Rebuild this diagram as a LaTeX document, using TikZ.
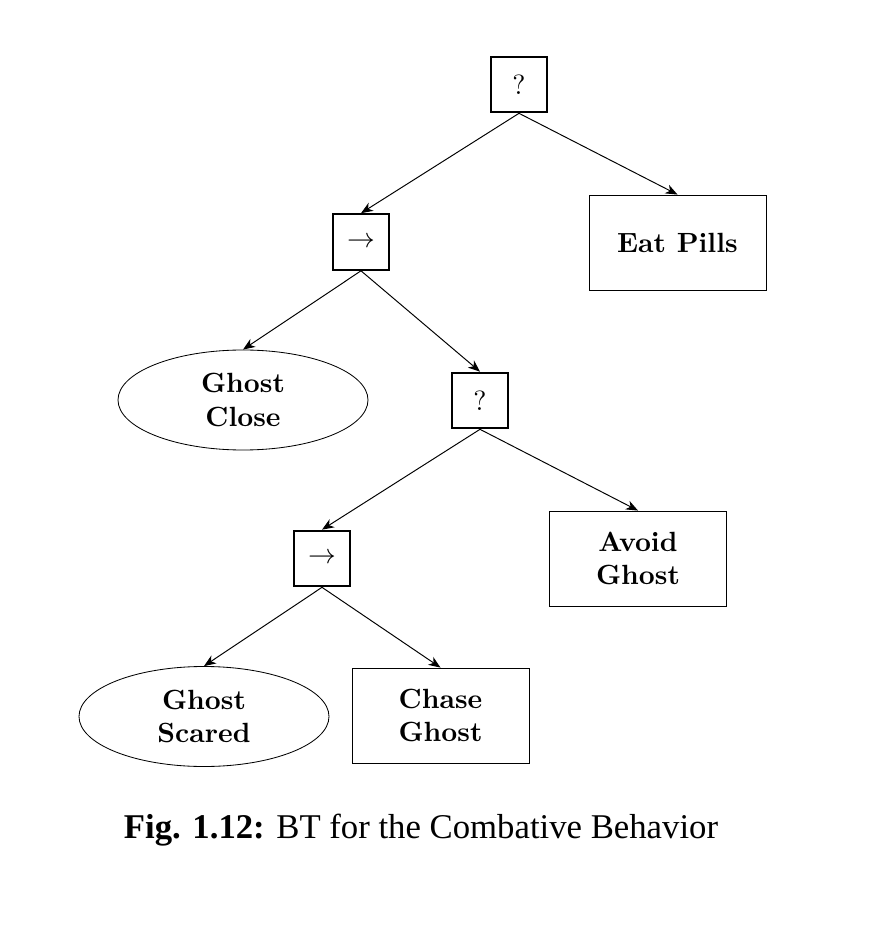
\documentclass[tikz,border=0pt]{standalone}
\usepackage{fontspec}
\usetikzlibrary{shapes.geometric,arrows.meta}
\newfontfamily\capfont{Liberation Serif}
\begin{document}
\begin{tikzpicture}[x=0.36pt,y=-0.36pt,
  ctrl/.style={draw,line width=0.75pt,minimum width=20pt,minimum height=20pt,inner sep=0pt,font=\normalsize},
  act/.style={draw,line width=0.3pt,minimum width=63.7pt,minimum height=34.2pt,inner sep=0pt,align=center,font=\bfseries},
  cond/.style={draw,ellipse,line width=0.3pt,minimum width=90pt,minimum height=36pt,inner sep=0pt,align=center,font=\bfseries},
  edge/.style={-{Stealth[length=4.3pt,width=3.4pt,inset=1.3pt]},line width=0.35pt}]
\useasboundingbox (0,0) rectangle (883,927);
\node[ctrl] (r) at (519,84.5) {?};
\node[ctrl] (s1) at (361,242) {$\rightarrow$};
\node[act] (eat) at (677.5,242.5) {Eat Pills};
\node[cond] (gc) at (243,400) {Ghost\\Close};
\node[ctrl] (f2) at (480,400.5) {?};
\node[ctrl] (s2) at (322,558.5) {$\rightarrow$};
\node[act] (avoid) at (638,558.5) {Avoid\\Ghost};
\node[cond] (gs) at (204,716.5) {Ghost\\Scared};
\node[act] (chase) at (440.5,715.5) {Chase\\Ghost};
\draw[edge] (r.south) -- (s1.north);
\draw[edge] (r.south) -- (eat.north);
\draw[edge] (s1.south) -- (gc.north);
\draw[edge] (s1.south) -- (f2.north);
\draw[edge] (f2.south) -- (s2.north);
\draw[edge] (f2.south) -- (avoid.north);
\draw[edge] (s2.south) -- (gs.north);
\draw[edge] (s2.south) -- (chase.north);
\node[font=\capfont\fontsize{12.5}{15}\selectfont,anchor=base] (cap) at (421,838) {\textbf{Fig. 1.12:} BT for the Combative Behavior};
\end{tikzpicture}
\end{document}
